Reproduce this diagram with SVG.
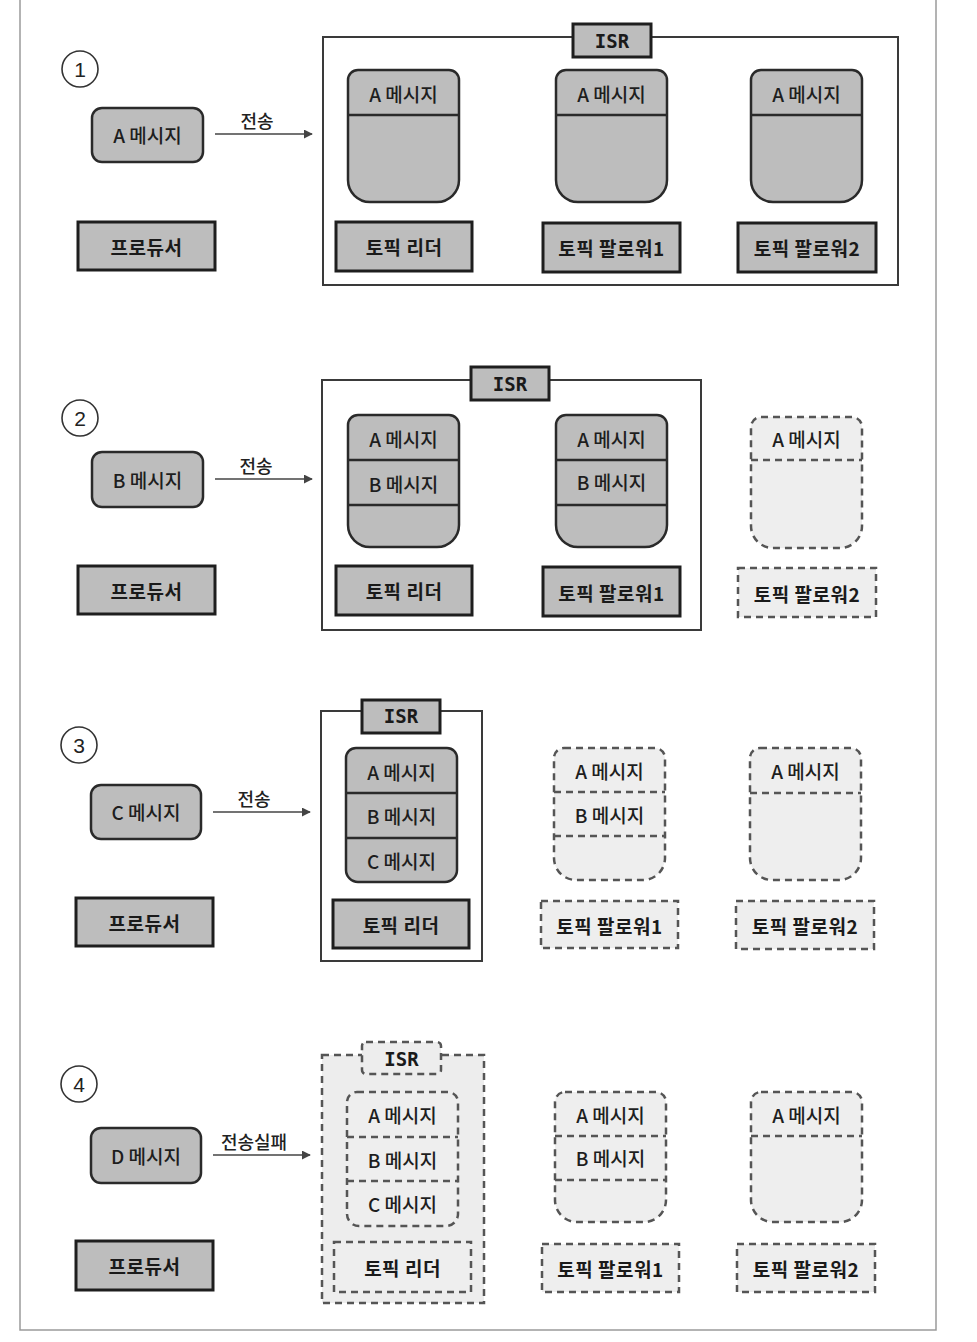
<svg xmlns="http://www.w3.org/2000/svg" width="977" height="1342" viewBox="0 0 977 1342">
<defs>
<style>
.solid{fill:#bdbdbd;stroke:#2a2a2a;stroke-width:2.5}
.box{fill:#bdbdbd;stroke:#1e1e1e;stroke-width:3}
.dash{fill:#eeeeee;stroke:#555;stroke-width:2.5;stroke-dasharray:7 5}
.sepS{stroke:#2a2a2a;stroke-width:2.5;fill:none}
.sepD{stroke:#555;stroke-width:2.5;stroke-dasharray:7 5;fill:none}
.frame{fill:#fff;stroke:#3a3a3a;stroke-width:2}
.frameD{fill:#ededed;stroke:#555;stroke-width:2.5;stroke-dasharray:7 5}
.t{font-family:"Noto Sans CJK KR","Noto Sans",sans-serif;font-size:19px;font-weight:500;fill:#1e1e1e;text-anchor:middle;dominant-baseline:central}
.tb{font-family:"Noto Sans CJK KR","Noto Sans",sans-serif;font-size:19px;font-weight:bold;fill:#1a1a1a;text-anchor:middle;dominant-baseline:central;letter-spacing:0.5px}
.isr{font-family:"DejaVu Sans Mono",monospace;font-size:19px;font-weight:bold;fill:#1a1a1a;text-anchor:middle;dominant-baseline:central}
.num{font-family:"Liberation Sans",sans-serif;font-size:21px;fill:#222;text-anchor:middle;dominant-baseline:central}
.circ{fill:#fff;stroke:#333;stroke-width:1.6}
.arrow{stroke:#444;stroke-width:1.5;fill:none;marker-end:url(#ah)}
.lbl{font-family:"Noto Sans CJK KR","Noto Sans",sans-serif;font-size:18px;font-weight:500;fill:#222;text-anchor:middle}
</style>
<marker id="ah" viewBox="0 0 10 10" refX="9" refY="5" markerWidth="9" markerHeight="9" markerUnits="userSpaceOnUse" orient="auto">
<path d="M0 0 L10 5 L0 10 Z" fill="#444"/>
</marker>
</defs>
<rect x="0" y="0" width="977" height="1342" fill="#fff"/>
<path d="M20 0 V1330 H936 V0" fill="none" stroke="#9a9a9a" stroke-width="1.5"/>

<!-- Section 1 -->
<g id="s1-num"><circle class="circ" cx="80" cy="69" r="18"/><text class="num" x="80" y="69">1</text></g>
<g id="s1-msg"><rect class="solid" x="92" y="108" width="111" height="54" rx="10"/><text class="t" x="147.5" y="134">A 메시지</text></g>
<g id="s1-producer"><rect class="box" x="78" y="222" width="137" height="48"/><text class="tb" x="146.5" y="246">프로듀서</text></g>
<g id="s1-isr"><rect class="frame" x="323" y="37" width="575" height="248"/><rect class="box" x="573" y="24" width="78" height="33"/><text class="isr" x="612" y="41">ISR</text></g>
<g id="s1-leader">
<path class="solid" d="M358 70 H449 A10 10 0 0 1 459 80 V180 A22 22 0 0 1 437 202 H370 A22 22 0 0 1 348 180 V80 A10 10 0 0 1 358 70 Z"/>
<line class="sepS" x1="348" y1="115" x2="459" y2="115"/>
<text class="t" x="403.5" y="93">A 메시지</text>
<rect class="box" x="336" y="222" width="136" height="49"/><text class="tb" x="404" y="246">토픽 리더</text>
</g>
<g id="s1-f1">
<path class="solid" d="M566 70 H657 A10 10 0 0 1 667 80 V180 A22 22 0 0 1 645 202 H578 A22 22 0 0 1 556 180 V80 A10 10 0 0 1 566 70 Z"/>
<line class="sepS" x1="556" y1="115" x2="667" y2="115"/>
<text class="t" x="611.5" y="93">A 메시지</text>
<rect class="box" x="543" y="223" width="137" height="49"/><text class="tb" x="611.5" y="247">토픽 팔로워1</text>
</g>
<g id="s1-f2">
<path class="solid" d="M761 70 H852 A10 10 0 0 1 862 80 V180 A22 22 0 0 1 840 202 H773 A22 22 0 0 1 751 180 V80 A10 10 0 0 1 761 70 Z"/>
<line class="sepS" x1="751" y1="115" x2="862" y2="115"/>
<text class="t" x="806.5" y="93">A 메시지</text>
<rect class="box" x="738" y="223" width="138" height="49"/><text class="tb" x="807" y="247">토픽 팔로워2</text>
</g>

<!-- Section 2 -->
<g id="s2-num"><circle class="circ" cx="80" cy="418" r="18"/><text class="num" x="80" y="418">2</text></g>
<g id="s2-msg"><rect class="solid" x="92" y="452" width="111" height="55" rx="10"/><text class="t" x="147.5" y="479">B 메시지</text></g>
<g id="s2-producer"><rect class="box" x="78" y="566" width="137" height="48"/><text class="tb" x="146.5" y="590">프로듀서</text></g>
<g id="s2-isr"><rect class="frame" x="322" y="380" width="379" height="250"/><rect class="box" x="471" y="367" width="78" height="33"/><text class="isr" x="510" y="384">ISR</text></g>
<g id="s2-leader">
<path class="solid" d="M358 415 H449 A10 10 0 0 1 459 425 V525 A22 22 0 0 1 437 547 H370 A22 22 0 0 1 348 525 V425 A10 10 0 0 1 358 415 Z"/>
<line class="sepS" x1="348" y1="460" x2="459" y2="460"/>
<line class="sepS" x1="348" y1="505" x2="459" y2="505"/>
<text class="t" x="403.5" y="438">A 메시지</text>
<text class="t" x="403.5" y="483">B 메시지</text>
<rect class="box" x="336" y="566" width="136" height="49"/><text class="tb" x="404" y="590">토픽 리더</text>
</g>
<g id="s2-f1">
<path class="solid" d="M566 415 H657 A10 10 0 0 1 667 425 V525 A22 22 0 0 1 645 547 H578 A22 22 0 0 1 556 525 V425 A10 10 0 0 1 566 415 Z"/>
<line class="sepS" x1="556" y1="460" x2="667" y2="460"/>
<line class="sepS" x1="556" y1="505" x2="667" y2="505"/>
<text class="t" x="611.5" y="438">A 메시지</text>
<text class="t" x="611.5" y="481">B 메시지</text>
<rect class="box" x="543" y="567" width="137" height="49"/><text class="tb" x="611.5" y="592">토픽 팔로워1</text>
</g>
<g id="s2-f2">
<path class="dash" d="M761 417 H852 A10 10 0 0 1 862 427 V526 A22 22 0 0 1 840 548 H773 A22 22 0 0 1 751 526 V427 A10 10 0 0 1 761 417 Z"/>
<line class="sepD" x1="751" y1="460" x2="862" y2="460"/>
<text class="t" x="806.5" y="438">A 메시지</text>
<rect class="dash" x="738" y="568" width="138" height="49"/><text class="tb" x="807" y="593">토픽 팔로워2</text>
</g>

<!-- Section 3 -->
<g id="s3-num"><circle class="circ" cx="79" cy="745" r="18"/><text class="num" x="79" y="745">3</text></g>
<g id="s3-msg"><rect class="solid" x="91" y="785" width="110" height="54" rx="10"/><text class="t" x="146" y="811">C 메시지</text></g>
<g id="s3-producer"><rect class="box" x="76" y="898" width="137" height="48"/><text class="tb" x="144.5" y="922">프로듀서</text></g>
<g id="s3-isr"><rect class="frame" x="321" y="711" width="161" height="250"/><rect class="box" x="362" y="700" width="78" height="33"/><text class="isr" x="401" y="716">ISR</text></g>
<g id="s3-leader">
<path class="solid" d="M356 748 H447 A10 10 0 0 1 457 758 V870 A12 12 0 0 1 445 882 H358 A12 12 0 0 1 346 870 V758 A10 10 0 0 1 356 748 Z"/>
<line class="sepS" x1="346" y1="793" x2="457" y2="793"/>
<line class="sepS" x1="346" y1="838" x2="457" y2="838"/>
<text class="t" x="401.5" y="771">A 메시지</text>
<text class="t" x="401.5" y="815">B 메시지</text>
<text class="t" x="401.5" y="860">C 메시지</text>
<rect class="box" x="333" y="900" width="136" height="48"/><text class="tb" x="401" y="924">토픽 리더</text>
</g>
<g id="s3-f1">
<path class="dash" d="M564 748 H655 A10 10 0 0 1 665 758 V858 A22 22 0 0 1 643 880 H576 A22 22 0 0 1 554 858 V758 A10 10 0 0 1 564 748 Z"/>
<line class="sepD" x1="554" y1="792" x2="665" y2="792"/>
<line class="sepD" x1="554" y1="836" x2="665" y2="836"/>
<text class="t" x="609.5" y="770">A 메시지</text>
<text class="t" x="609.5" y="814">B 메시지</text>
<rect class="dash" x="541" y="901" width="137" height="47"/><text class="tb" x="609.5" y="925">토픽 팔로워1</text>
</g>
<g id="s3-f2">
<path class="dash" d="M760 748 H851 A10 10 0 0 1 861 758 V858 A22 22 0 0 1 839 880 H772 A22 22 0 0 1 750 858 V758 A10 10 0 0 1 760 748 Z"/>
<line class="sepD" x1="750" y1="793" x2="861" y2="793"/>
<text class="t" x="805.5" y="770">A 메시지</text>
<rect class="dash" x="736" y="901" width="138" height="48"/><text class="tb" x="805" y="925">토픽 팔로워2</text>
</g>

<!-- Section 4 -->
<g id="s4-num"><circle class="circ" cx="79" cy="1084" r="18"/><text class="num" x="79" y="1084">4</text></g>
<g id="s4-msg"><rect class="solid" x="91" y="1128" width="110" height="55" rx="10"/><text class="t" x="146" y="1155">D 메시지</text></g>
<g id="s4-producer"><rect class="box" x="76" y="1241" width="137" height="49"/><text class="tb" x="144.5" y="1265">프로듀서</text></g>
<g id="s4-isr"><rect class="frameD" x="322" y="1055" width="162" height="248"/><rect class="frameD" x="362" y="1042" width="79" height="32" rx="4"/><text class="isr" x="401.5" y="1059">ISR</text></g>
<g id="s4-leader">
<path class="dash" d="M357 1092 H448 A10 10 0 0 1 458 1102 V1214 A12 12 0 0 1 446 1226 H359 A12 12 0 0 1 347 1214 V1102 A10 10 0 0 1 357 1092 Z"/>
<line class="sepD" x1="347" y1="1137" x2="458" y2="1137"/>
<line class="sepD" x1="347" y1="1181" x2="458" y2="1181"/>
<text class="t" x="402.5" y="1114">A 메시지</text>
<text class="t" x="402.5" y="1159">B 메시지</text>
<text class="t" x="402.5" y="1203">C 메시지</text>
<rect class="dash" x="334" y="1242" width="137" height="50"/><text class="tb" x="402.5" y="1267">토픽 리더</text>
</g>
<g id="s4-f1">
<path class="dash" d="M565 1092 H656 A10 10 0 0 1 666 1102 V1200 A22 22 0 0 1 644 1222 H577 A22 22 0 0 1 555 1200 V1102 A10 10 0 0 1 565 1092 Z"/>
<line class="sepD" x1="555" y1="1136" x2="666" y2="1136"/>
<line class="sepD" x1="555" y1="1180" x2="666" y2="1180"/>
<text class="t" x="610.5" y="1114">A 메시지</text>
<text class="t" x="610.5" y="1157">B 메시지</text>
<rect class="dash" x="542" y="1244" width="137" height="48"/><text class="tb" x="610.5" y="1268">토픽 팔로워1</text>
</g>
<g id="s4-f2">
<path class="dash" d="M761 1092 H852 A10 10 0 0 1 862 1102 V1200 A22 22 0 0 1 840 1222 H773 A22 22 0 0 1 751 1200 V1102 A10 10 0 0 1 761 1092 Z"/>
<line class="sepD" x1="751" y1="1136" x2="862" y2="1136"/>
<text class="t" x="806.5" y="1114">A 메시지</text>
<rect class="dash" x="737" y="1244" width="138" height="48"/><text class="tb" x="806" y="1268">토픽 팔로워2</text>
</g>

<g id="connectors">
<line class="arrow" x1="215" y1="134" x2="312" y2="134"/>
<text class="lbl" x="257" y="128">전송</text>
<line class="arrow" x1="215" y1="479" x2="312" y2="479"/>
<text class="lbl" x="256" y="473">전송</text>
<line class="arrow" x1="213" y1="812" x2="310" y2="812"/>
<text class="lbl" x="254" y="806">전송</text>
<line class="arrow" x1="213" y1="1155" x2="310" y2="1155"/>
<text class="lbl" x="254" y="1149">전송실패</text>
</g>
</svg>
